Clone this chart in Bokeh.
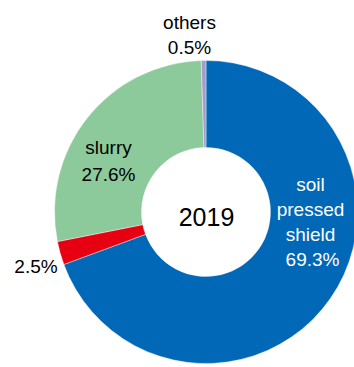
import numpy as np
from bokeh.plotting import figure
from bokeh.models import Range1d, ColumnDataSource
from bokeh.core.properties import value
from bokeh.embed import file_html
from bokeh.resources import INLINE

categories = ["soil pressed shield", "others_red", "slurry", "others"]
shares = [69.3, 2.5, 27.6, 0.5]
colors = ["#0068B7", "#E60012", "#8CC99B", "#A79BCB"]
year_label = "2019"

W, H = 354, 367
p = figure(width=W, height=H, output_backend="svg", toolbar_location=None,
           x_range=Range1d(0, W), y_range=Range1d(0, H),
           x_axis_type=None, y_axis_type=None, min_border=0,
           outline_line_color=None)
p.grid.visible = False
p.background_fill_color = "white"
p.border_fill_color = "white"

def Y(py):
    return H - py

vals = np.array(shares, dtype=float)
frac = vals / vals.sum()
cum = np.concatenate([[0], np.cumsum(frac)])
start = np.pi / 2 - 2 * np.pi * cum[:-1]
end = np.pi / 2 - 2 * np.pi * cum[1:]

cx, cy = 205.5, Y(211.5)
src = ColumnDataSource(dict(start=start, end=end, color=colors))
p.annular_wedge(x=cx, y=cy, inner_radius=64.5, outer_radius=151.5,
                start_angle="start", end_angle="end", direction="clock",
                fill_color="color", line_color="white", line_width=0.4,
                source=src)

font = value("Liberation Sans")

def lab(x, y, t, size="19px", color="black"):
    p.text(x=[x], y=[Y(y - 6)], text=[t], text_font=font, text_font_size=size,
           text_color=color, text_align="center", text_baseline="alphabetic")

lab(189, 28, "others")
lab(189, 53, f"{shares[3]}%")
lab(108, 153, "slurry")
lab(108, 180, f"{shares[2]}%")
lab(206, 222, year_label, size="25px")
lab(310, 190, "soil", color="white")
lab(310, 215, "pressed", color="white")
lab(310, 240, "shield", color="white")
lab(312, 265, f"{shares[0]}%", color="white")
lab(35.5, 272, f"{shares[1]}%")

open("out.html", "w").write(file_html(p, INLINE))
